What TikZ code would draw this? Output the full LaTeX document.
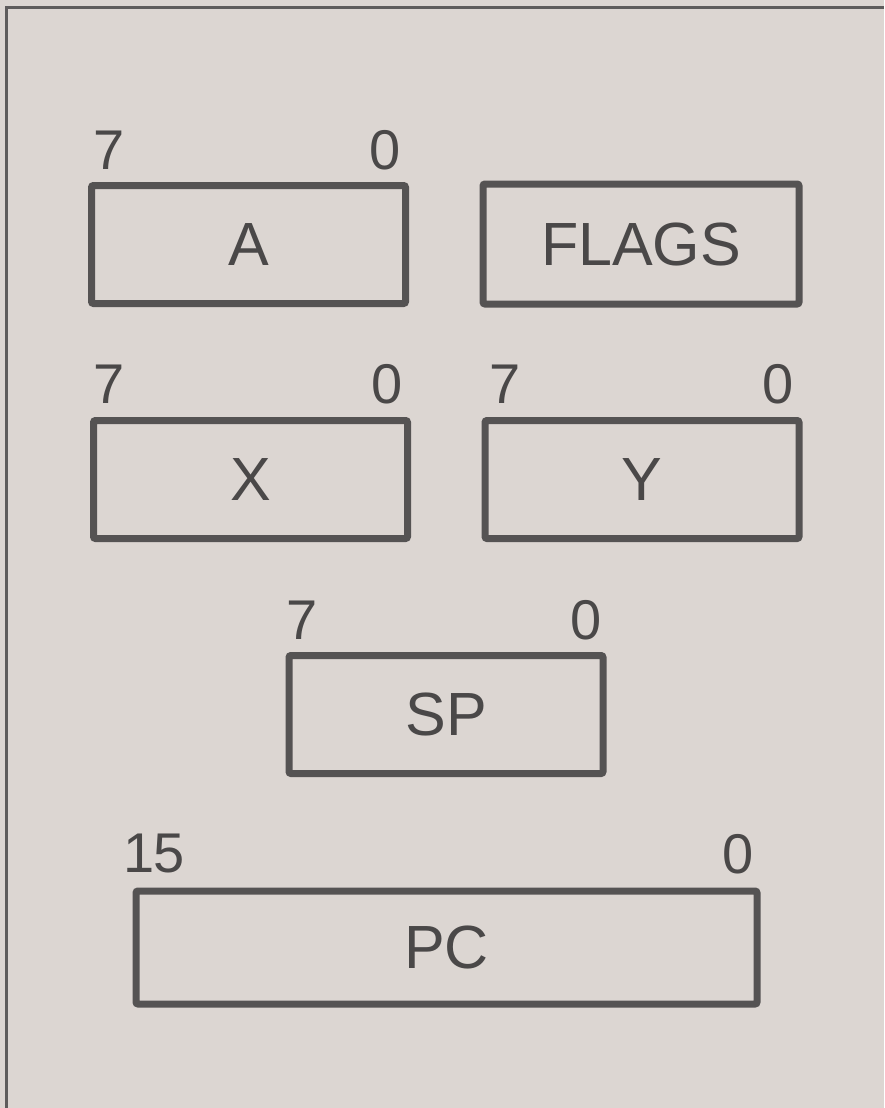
\documentclass[tikz,border=0pt]{standalone}
\usepackage{fontspec}
\setmainfont{Liberation Sans}
\definecolor{paper}{HTML}{DCD6D2}
\definecolor{ink}{HTML}{555353}
\definecolor{txt}{HTML}{4A4848}
\definecolor{frame}{HTML}{5E5C5C}
\begin{document}
\begin{tikzpicture}[x=1pt,y=-1pt,
  regbox/.style={draw=ink,line width=7pt,rounded corners=2pt,inner sep=0pt,
    minimum width=314pt,minimum height=118pt,
    font=\fontsize{61}{61}\selectfont,text=txt},
  bitlabel/.style={inner sep=0pt,font=\fontsize{56}{56}\selectfont,text=txt}]
\fill[paper] (0,0) rectangle (884,1108);
\useasboundingbox (0,0) rectangle (884,1108);
% frame
\coordinate (ftl) at (6,8);
\coordinate (ftr) at (884,8);
\coordinate (fbl) at (6,1108);
\draw[frame,line width=3pt] (fbl) -- (ftl) -- (ftr);
% registers
\node[regbox] (A) at (248.5,244.5) {A};
\node[regbox,minimum width=316pt,minimum height=120pt] (F) at (641,244) {FLAGS};
\node[regbox] (X) at (250.5,479.5) {X};
\node[regbox] (Y) at (642,479.5) {Y};
\node[regbox] (SP) at (446,714.5) {SP};
\node[regbox,minimum width=621pt,minimum height=113pt] (PC) at (446.5,947.5) {PC};
% bit labels
\node[bitlabel] (a7) at (109,150) {7};
\node[bitlabel] (a0) at (385,150) {0};
\node[bitlabel] (x7) at (109,384) {7};
\node[bitlabel] (x0) at (387,384) {0};
\node[bitlabel] (y7) at (505,384) {7};
\node[bitlabel] (y0) at (778,384) {0};
\node[bitlabel] (s7) at (302,620) {7};
\node[bitlabel] (s0) at (586,620) {0};
\node[bitlabel] (p15) at (154,853) {1\kern-1.5pt5};
\node[bitlabel] (p0) at (738,854) {0};
\end{tikzpicture}
\end{document}
